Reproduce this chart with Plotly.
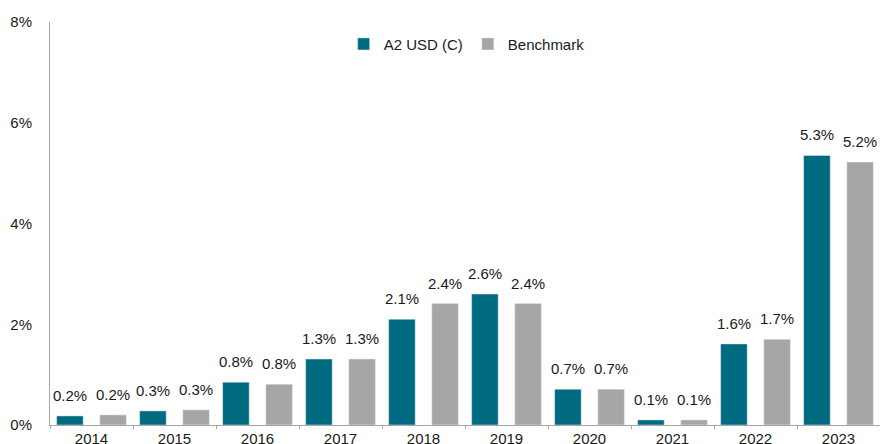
import plotly.graph_objects as go

years = ["2014", "2015", "2016", "2017", "2018", "2019", "2020", "2021", "2022", "2023"]
a2_usd = [0.18, 0.28, 0.85, 1.31, 2.10, 2.60, 0.71, 0.10, 1.61, 5.35]
benchmark = [0.20, 0.30, 0.81, 1.31, 2.41, 2.41, 0.71, 0.10, 1.70, 5.22]
a2_labels = ["0.2%", "0.3%", "0.8%", "1.3%", "2.1%", "2.6%", "0.7%", "0.1%", "1.6%", "5.3%"]
bench_labels = ["0.2%", "0.3%", "0.8%", "1.3%", "2.4%", "2.4%", "0.7%", "0.1%", "1.7%", "5.2%"]
y_ticks = [0, 2, 4, 6, 8]
y_tick_text = ["0%", "2%", "4%", "6%", "8%"]

font_family = "Liberation Sans, Arial, sans-serif"
fs = 15
text_color = "#1a1a1a"
bar_w = 0.32
a2_off = -0.42
bench_off = 0.10

fig = go.Figure()
fig.add_trace(go.Bar(
    x=years, y=a2_usd, name="A2 USD (C)", marker_color="#006A80",
    width=bar_w, offset=a2_off,
))
fig.add_trace(go.Bar(
    x=years, y=benchmark, name="Benchmark", marker_color="#A6A6A6",
    width=bar_w, offset=bench_off,
))

# value labels, placed above each bar (x in category-index units)
for series, labels, off in ((a2_usd, a2_labels, a2_off), (benchmark, bench_labels, bench_off)):
    for i, (val, lab) in enumerate(zip(series, labels)):
        fig.add_annotation(
            x=i + off + bar_w / 2, y=val, text=lab, showarrow=False, xref="x", yref="y",
            xanchor="center", yanchor="bottom", yshift=10,
            font=dict(size=fs, color=text_color, family=font_family),
        )

# page body has an 8px default margin, so the figure is sized to fill the rest
fig.update_layout(
    width=880, height=436,
    margin=dict(l=42, r=8, t=14, b=19, autoexpand=False),
    paper_bgcolor="white", plot_bgcolor="white",
    barmode="overlay",
    font=dict(family=font_family, size=fs, color=text_color),
    showlegend=True,
    legend=dict(orientation="h", x=0.502, xanchor="center", y=0.945, yanchor="middle",
                font=dict(size=fs, color=text_color), itemwidth=30,
                bgcolor="rgba(0,0,0,0)"),
)
fig.update_xaxes(
    type="category", categoryorder="array", categoryarray=years,
    range=[-0.5, len(years) - 0.5],
    showline=True, linecolor="#A6A6A6", linewidth=1,
    ticks="outside", tickson="boundaries", ticklen=3, tickcolor="#A6A6A6",
    showgrid=False, tickfont=dict(size=fs), ticklabelstandoff=0, automargin=False,
)
fig.update_yaxes(
    range=[0, 8], tickvals=y_ticks, ticktext=y_tick_text,
    showline=True, linecolor="#A6A6A6", linewidth=1,
    showgrid=False, zeroline=False, ticks="", tickfont=dict(size=fs),
    ticklabelstandoff=14, automargin=False,
)

fig.write_html("out.html")
